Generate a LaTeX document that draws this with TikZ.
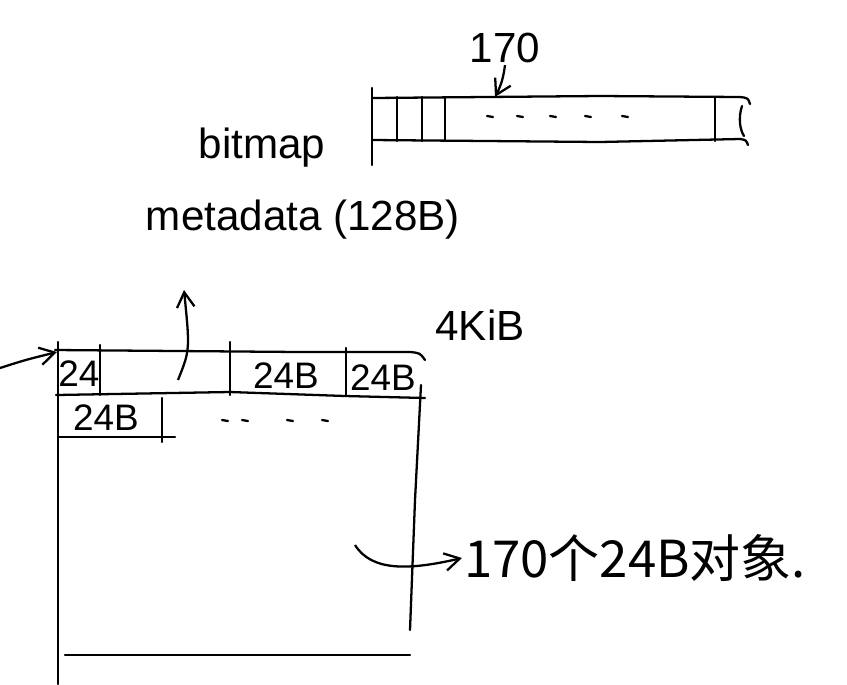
\documentclass[tikz,border=0pt]{standalone}
\usepackage{fontspec}
\setmainfont{Liberation Sans}
\newfontfamily\cjk{Noto Sans CJK SC}
\usetikzlibrary{arrows.meta,positioning}

\begin{document}
\begin{tikzpicture}[
    x=0.02cm, y=-0.02cm,
    pen/.style={line width=1.3pt, black, line cap=round},
    lbl/.style={font=\fontsize{24}{28}\selectfont, inner sep=1pt},
    cell/.style={font=\fontsize{21}{24}\selectfont, inner sep=1pt},
    dotmark/.style={line width=1.3pt, line cap=round},
    arr/.style={-{Straight Barb[length=3mm, width=3.5mm]}, line width=1.3pt}
]
\useasboundingbox (0,0) rectangle (847,684);

% Bitmap strip.
\draw[pen] (372,88) -- (372,165);
\draw[pen] (372,98) -- (600,96) -- (740,97) .. controls (748,98) .. (750,104);
\draw[pen] (372,140) -- (600,142) -- (740,139) .. controls (746,140) .. (748,145);
\draw[pen] (742,106) .. controls (738,118) and (740,130) .. (744,136);
\foreach \x in {397,422,445,715}{
    \draw[pen] (\x,97) -- (\x,141);
}
\foreach \x in {490,520,553,588,625}{
    \draw[dotmark] (\x-3,116) -- (\x+3,117);
}
\node[lbl] (bits) at (505,48) {170};
\coordinate (bittop) at (495,97);
\draw[arr] (bits.south) to[bend left=10] (bittop);

\node[lbl] (bitmap) at (262,148) {bitmap};
\node[lbl] (meta) at (303,220) {metadata (128B)};
\node[lbl] (size) at (480,325) {4KiB};

% Page: first row.
\draw[pen] (55,350) -- (300,352) -- (410,352) .. controls (420,353) .. (425,360);
\draw[pen] (56,395) -- (230,392) -- (345,396) -- (425,398);
\draw[pen] (58,342) -- (58,684);
\draw[pen] (421,385) -- (415,500) -- (410,630);
\foreach \x/\top in {100/345,230/342,346/348}{
    \draw[pen] (\x,\top) -- (\x,395);
}
\node[cell] (c1) at (79,374) {24};
\node[cell] (c2) at (286,376) {24B};
\node[cell] (c3) at (383,378) {24B};

% Page: second row.
\node[cell] (c4) at (106,418) {24B};
\draw[pen] (162,398) -- (162,442);
\draw[pen] (58,437) -- (175,437);
\foreach \x in {225,245,290,325}{
    \draw[dotmark] (\x-3,420) -- (\x+3,421);
}

% Page bottom.
\draw[pen] (65,655) -- (410,655);

% Pointers.
\coordinate (pagein) at (0,368);
\coordinate (pagetl) at (57,352);
\draw[arr] (pagein) .. controls (25,360) .. (pagetl);
\coordinate (hdr) at (178,380);
\coordinate (metatip) at (184,290);
\draw[arr] (hdr) .. controls (190,350) .. (metatip);

\node[font=\cjk\fontsize{29}{33}\selectfont, inner sep=1pt] (objs) at (635,558) {170个24B对象.};
\coordinate (objtail) at (355,545);
\draw[arr] (objtail) .. controls (372,572) and (410,570) .. (objs.west);
\end{tikzpicture}
\end{document}
